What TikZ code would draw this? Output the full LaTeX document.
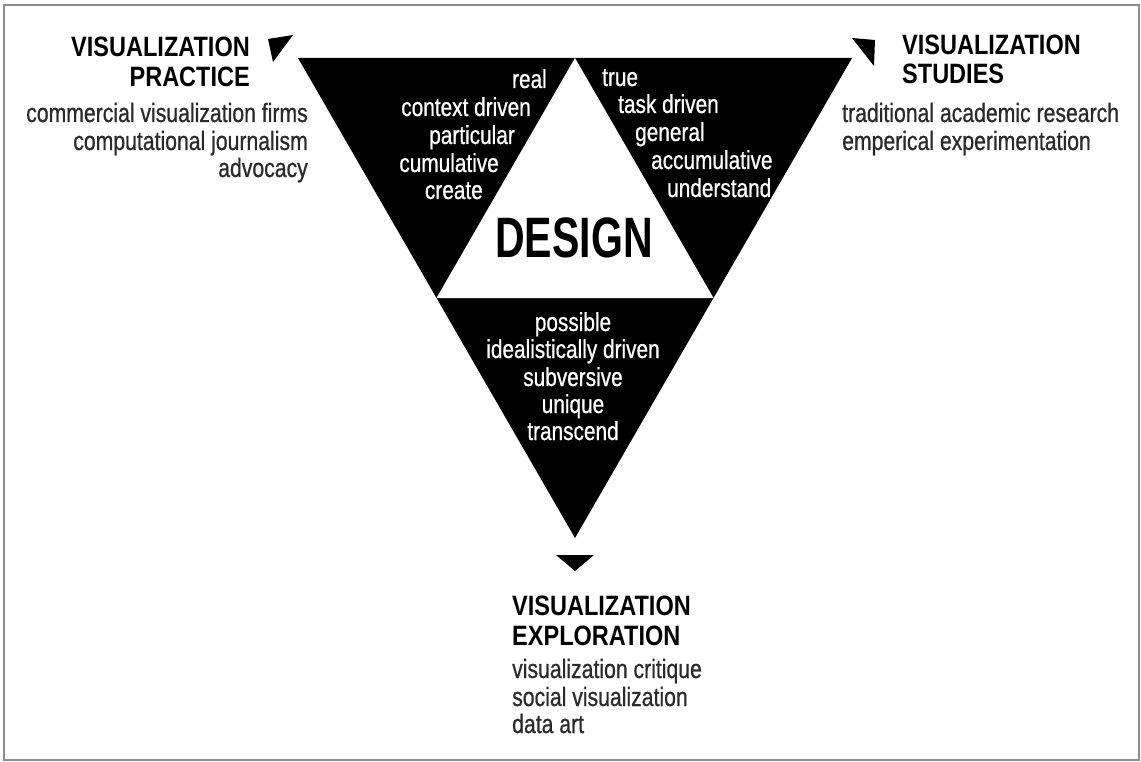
\documentclass[tikz,border=0pt]{standalone}
\usepackage{fontspec}
\setmainfont{Liberation Sans}
\newfontfamily\headfont{Liberation Sans}[FakeStretch=0.84]
\newfontfamily\bodyfont{Liberation Sans}[FakeStretch=0.80, FakeBold=0.7]
\newfontfamily\bigfont{Liberation Sans}[FakeStretch=0.72]
\definecolor{inkgray}{HTML}{2A2A2A}
\definecolor{framegray}{HTML}{8C8C8C}
\begin{document}
\begin{tikzpicture}[x=1pt,y=-1pt,
  head/.style={font=\headfont\bfseries\fontsize{28}{29}\selectfont, inner sep=0pt, text=black},
  body/.style={font=\bodyfont\fontsize{26.5}{27.5}\selectfont, inner sep=0pt, text=inkgray},
  inv/.style={font=\bodyfont\fontsize{26}{27.5}\selectfont, inner sep=0pt, text=white},
  big/.style={font=\bigfont\bfseries\fontsize{57}{60}\selectfont, inner sep=0pt, text=black},
  marker/.style={fill=black}
]
\useasboundingbox (0,0) rectangle (1141,762);
\draw[framegray, line width=2pt] (3.5,5.5) rectangle (1138.5,759.5);

% outer triangle and the inner design triangle
\coordinate (TL) at (298,58);
\coordinate (TR) at (852,58);
\coordinate (BT) at (575,538);
\coordinate (MT) at (575,58);
\coordinate (ML) at (436.5,298);
\coordinate (MR) at (713.5,298);
\fill[black] (TL) -- (TR) -- (BT) -- cycle;
\fill[white] (MT) -- (MR) -- (ML) -- cycle;

% corner markers
\fill[marker] (268,39) -- (293,35) -- (273,62) -- cycle;
\fill[marker] (852,38) -- (875,40) -- (874,66) -- cycle;
\fill[marker] (556,555) -- (594,555) -- (575,571) -- cycle;

\node[big, anchor=base] (design) at (574,258) {DESIGN};

% practice corner
\node[head, anchor=base east] (prA) at (250,57) {VISUALIZATION};
\node[head, anchor=base east] (prB) at (250,87) {PRACTICE};
\node[body, anchor=base east] (pr1) at (308,122) {commercial visualization firms};
\node[body, anchor=base east] (pr2) at (308,150) {computational journalism};
\node[body, anchor=base east] (pr3) at (308,177) {advocacy};

% studies corner
\node[head, anchor=base west] (stA) at (902,55) {VISUALIZATION};
\node[head, anchor=base west] (stB) at (902,84) {STUDIES};
\node[body, anchor=base west] (st1) at (842,122) {traditional academic research};
\node[body, anchor=base west] (st2) at (842,150) {emperical experimentation};

% exploration corner
\node[head, anchor=base west] (exA) at (512,615) {VISUALIZATION};
\node[head, anchor=base west] (exB) at (512,645) {EXPLORATION};
\node[body, anchor=base west] (ex1) at (512,678) {visualization critique};
\node[body, anchor=base west] (ex2) at (512,706) {social visualization};
\node[body, anchor=base west] (ex3) at (512,733) {data art};

% left black triangle
\node[inv, anchor=base east] (l1) at (547,88) {real};
\node[inv, anchor=base east] (l2) at (531,116) {context driven};
\node[inv, anchor=base east] (l3) at (515,144) {particular};
\node[inv, anchor=base east] (l4) at (499,172) {cumulative};
\node[inv, anchor=base east] (l5) at (483,199) {create};

% right black triangle
\node[inv, anchor=base west] (r1) at (602,86) {true};
\node[inv, anchor=base west] (r2) at (618,113) {task driven};
\node[inv, anchor=base west] (r3) at (635,141) {general};
\node[inv, anchor=base west] (r4) at (651,169) {accumulative};
\node[inv, anchor=base west] (r5) at (667,197) {understand};

% bottom black triangle
\node[inv, anchor=base] (b1) at (573,331) {possible};
\node[inv, anchor=base] (b2) at (573,358) {idealistically driven};
\node[inv, anchor=base] (b3) at (573,386) {subversive};
\node[inv, anchor=base] (b4) at (573,413) {unique};
\node[inv, anchor=base] (b5) at (573,440) {transcend};
\end{tikzpicture}
\end{document}
